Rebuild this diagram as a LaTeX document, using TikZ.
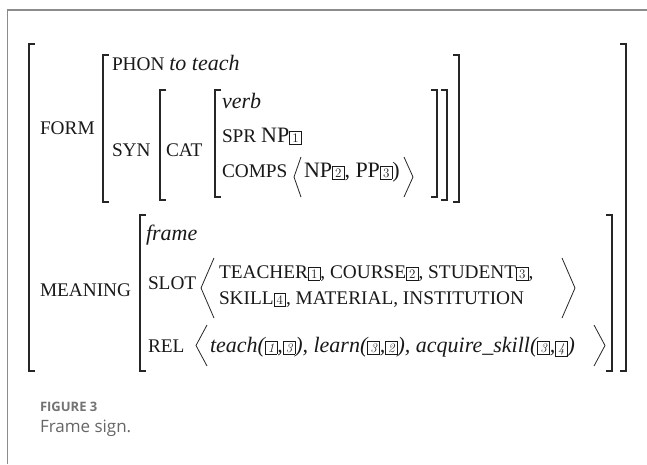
\documentclass[tikz,border=0pt]{standalone}
\usepackage{fontspec}
\newfontfamily\tms{Liberation Serif}
\newfontfamily\capfont{Open Sans}
\newcommand\fsL{\tms\fontsize{19.3}{21}\selectfont}
\newcommand\fsM{\tms\fontsize{22}{24}\selectfont}
\newcommand\tg[1]{{\setlength\fboxsep{1.6pt}\setlength\fboxrule{0.6pt}\fbox{\rmfamily\fontsize{13}{13}\selectfont\makebox[8pt]{#1}}}}
\newcommand\LBrk[3]{\draw[brk] (#1+6,#2) -- (#1,#2) -- (#1,#3) -- (#1+6,#3);}
\newcommand\RBrk[3]{\draw[brk] (#1-6,#2) -- (#1,#2) -- (#1,#3) -- (#1-6,#3);}
\newcommand\LAng[4]{\draw[ang] (#2,#3) -- (#1,{(#3+#4)/2}) -- (#2,#4);}
\newcommand\RAng[4]{\draw[ang] (#1,#3) -- (#2,{(#3+#4)/2}) -- (#1,#4);}
\tikzset{
  x=1pt, y=-1pt,
  brk/.style={line width=1.4pt, black!85},
  ang/.style={line width=0.8pt, black!85},
  txt/.style={anchor=base west, inner sep=0pt, outer sep=0pt, text=black!90},
  captxt/.style={anchor=base west, inner sep=0pt, outer sep=0pt},
}
\begin{document}
\begin{tikzpicture}
\useasboundingbox (0,0) rectangle (647,464);
\fill[white] (0,0) rectangle (647,464);
% frame border
\draw[black!45, line width=1.2pt] (7.5,464) -- (7.5,10) -- (647,10);
% outer brackets
\LBrk{29}{44}{371}
\RBrk{626}{44}{371}
% FORM
\node[txt] (form) at (40,134) {\fsL FORM};
\LBrk{103}{55}{202}
\RBrk{459}{55}{202}
\node[txt] (phon) at (112,70) {\fsL PHON \fsM\itshape to teach};
\node[txt] (syn) at (112,156) {\fsL SYN};
\LBrk{160}{90}{200}
\RBrk{447}{90}{200}
\node[txt] (cat) at (166,156) {\fsL CAT};
\LBrk{215}{90}{197}
\RBrk{437}{90}{197}
\node[txt] (verb) at (222,108) {\fsM\itshape verb};
\node[txt] (spr) at (222,142) {\fsL SPR \fsM NP\tg{1}};
\node[txt] (comps) at (222,177) {\fsL COMPS};
\LAng{294}{301}{157}{197}
\node[txt] (compsv) at (304,177) {\fsM NP\tg{2}, PP\tg{3})};
\RAng{404}{413}{157}{197}
% MEANING
\node[txt] (meaning) at (40,296) {\fsL MEANING};
\LBrk{140}{215}{371}
\RBrk{612}{215}{371}
\node[txt] (frame) at (146,240) {\fsM\itshape frame};
\node[txt] (slot) at (148,289) {\fsL SLOT};
\LAng{201}{214}{258}{318}
\node[txt] (slot1) at (219,278) {\fsL TEACHER\tg{1}, COURSE\tg{2}, STUDENT\tg{3},};
\node[txt] (slot2) at (219,304) {\fsL SKILL\tg{4}, MATERIAL, INSTITUTION};
\RAng{562}{575}{258}{318}
\node[txt] (rel) at (148,352) {\fsL REL};
\LAng{196}{207}{325}{366}
\node[txt] (relv) at (210,352) {\fsM\itshape teach(\tg{1},\tg{3}), learn(\tg{3},\tg{2}), acquire\_skill(\tg{3},\tg{4})};
\RAng{594}{605}{325}{366}
% caption
\node[captxt, text=black!55] (fig) at (40,411) {\capfont\bfseries\fontsize{13}{14}\selectfont FIGURE 3};
\node[captxt, text=black!60] (capt) at (40,432) {\capfont\fontsize{17}{19}\selectfont Frame sign.};
\end{tikzpicture}
\end{document}
